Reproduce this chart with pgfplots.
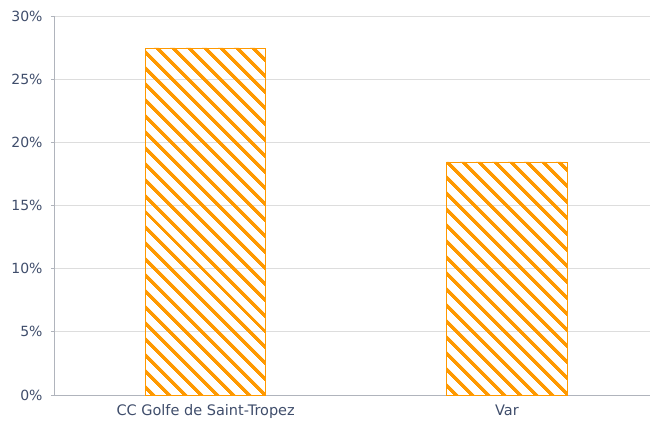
\documentclass[border=0pt]{standalone}
\usepackage{pgfplots}
\pgfplotsset{compat=1.18}
\usepackage{fontspec}
\setmainfont{DejaVu Sans}
\usetikzlibrary{patterns.meta}
\definecolor{txt}{HTML}{3F4D6B}
\definecolor{axisgray}{HTML}{B0B4BC}
\definecolor{gridgray}{HTML}{DDDDDD}
\definecolor{barorange}{HTML}{FF9900}
\begin{document}
\begin{tikzpicture}[x=1bp,y=1bp]
\useasboundingbox (-55bp,-30bp) rectangle (596bp,395bp);
\begin{axis}[
  at={(0,0)}, anchor=south west,
  scale only axis,
  width=595bp, height=379bp,
  xmin=-0.5, xmax=1.475,
  ymin=0, ymax=30,
  ytick={0,5,...,30},
  yticklabel={\pgfmathprintnumber{\tick}\%},
  /pgf/number format/assume math mode=true,
  xtick={0,1},
  xticklabels={CC Golfe de Saint-Tropez, Var},
  extra x ticks={0.5},
  extra x tick labels={},
  extra x tick style={major tick length=5bp, tick style={axisgray, line width=0.8bp}},
  x tick style={draw=none},
  y tick style={axisgray, line width=0.8bp},
  tick align=outside,
  major tick length=4bp,
  ymajorgrids,
  grid style={gridgray, line width=0.8bp},
  axis x line*=bottom,
  axis y line*=left,
  axis line style={axisgray, line width=1bp, -},
  tick label style={text=txt},
  yticklabel style={font=\fontsize{14bp}{16bp}\selectfont, xshift=-5bp},
  xticklabel style={font=\fontsize{14.5bp}{17bp}\selectfont, yshift=-2bp},
  ybar, bar width=0.4, bar shift=0pt,
]
\addplot[draw=barorange, line width=0.8bp,
  pattern={Lines[angle=-45, distance=11.8bp, line width=3.8bp]},
  pattern color=barorange]
  coordinates {(0,27.47) (1,18.45)};
\end{axis}
\end{tikzpicture}
\end{document}
